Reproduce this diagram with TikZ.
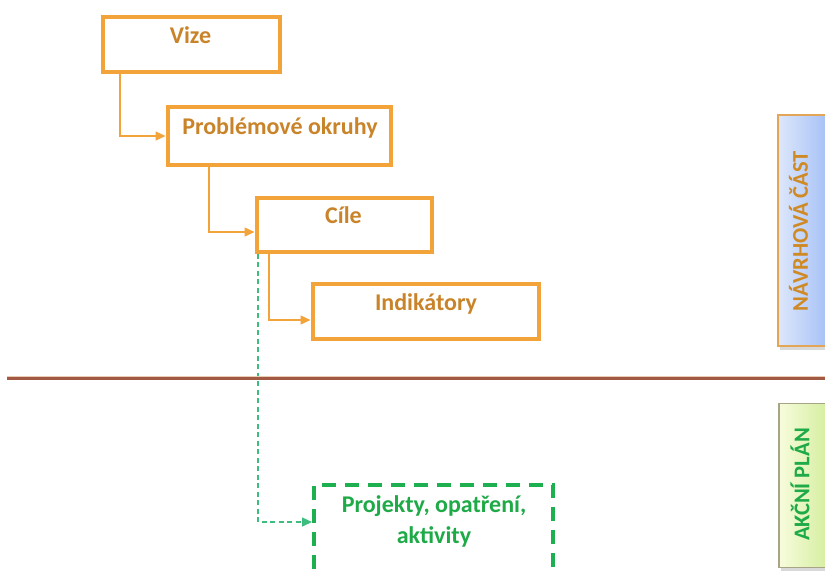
\documentclass[tikz,border=0pt]{standalone}
\usepackage{fontspec}
\setmainfont{Carlito}
\usetikzlibrary{arrows.meta}
\definecolor{orbox}{HTML}{F2A33A}
\definecolor{ortext}{HTML}{C9842A}
\definecolor{grbox}{HTML}{1EB050}
\definecolor{grtext}{HTML}{1FAA48}
\definecolor{grline}{HTML}{3DBE7E}
\definecolor{brline}{HTML}{A35A45}
\definecolor{brshade}{HTML}{EBCDB5}
\definecolor{blueL}{HTML}{DDE7FB}
\definecolor{blueR}{HTML}{A3BFF6}
\definecolor{yelL}{HTML}{F7FCDC}
\definecolor{yelR}{HTML}{D3ED9C}
\definecolor{panelor}{HTML}{E3A657}
\definecolor{panelgr}{HTML}{A8A486}
\definecolor{navtext}{HTML}{D08A24}
\begin{document}
\begin{tikzpicture}[x=1pt,y=-1pt,
  boxfont/.style={font=\bfseries\fontsize{24}{31}\selectfont},
  obox/.style={draw=orbox, line width=4pt, inner sep=0pt},
  otext/.style={boxfont, text=ortext, inner sep=0pt, text height=15.5pt, text depth=0pt},
  gbox/.style={draw=grbox, line width=4pt, dash pattern=on 14pt off 9pt, inner sep=0pt},
  gtext/.style={boxfont, text=grtext, inner sep=0pt, align=center},
  oarrow/.style={draw=orbox, line width=1.4pt, -{Triangle[length=10pt,width=9pt]}},
  garrow/.style={draw=grline, line width=1.4pt, dash pattern=on 5pt off 3.5pt, -{Triangle[length=10pt,width=9pt]}},
  sidefont/.style={font=\bfseries\fontsize{22.5}{26}\selectfont, rotate=90, inner sep=0pt, text height=14.5pt, text depth=0pt},
  panel/.style={inner sep=0pt, line width=1.8pt}
]
\clip (0,0) rectangle (825,574);
\fill[white] (0,0) rectangle (825,574);

% boxes
\node[obox, minimum width=177pt, minimum height=55pt] (vize) at (191,44) {};
\node[otext] (vizet) at (190.5,36) {Vize};
\node[obox, minimum width=223pt, minimum height=58pt] (prob) at (279,136) {};
\node[otext] (probt) at (280,126.5) {Problémové okruhy};
\node[obox, minimum width=175pt, minimum height=54pt] (cile) at (344,224.5) {};
\node[otext] (cilet) at (343.5,215.5) {Cíle};
\node[obox, minimum width=226pt, minimum height=55pt] (ind) at (425.5,311) {};
\node[otext] (indt) at (426,303) {Indikátory};

\node[gbox, minimum width=239pt, minimum height=96pt] (proj) at (433.5,533) {};
\node[gtext] (projt) at (434,521) {Projekty, opatření,\\aktivity};

% connectors
\draw[oarrow] (vize.south -| 120,0) |- (prob.west);
\draw[oarrow] (prob.south -| 209,0) |- (cile.west |- 0,232);
\draw[oarrow] (cile.south -| 269,0) |- (ind.west |- 0,320);
\draw[garrow] (cile.south -| 258,0) |- (proj.west |- 0,522);

% divider
\draw[brshade, line width=1.2pt] (7,376.3) -- (825,376.3);
\draw[brline, line width=3pt] (7,378.6) -- (825,378.6);

% side panels
\fill[black!15] (780,116.5) rectangle (832,349.5);
\node[panel, draw=panelor, left color=blueL, right color=blueR, minimum width=52pt, minimum height=231pt] (nav) at (804,230.5) {};
\node[sidefont, text=navtext] (navt) at (800.5,231) {NÁVRHOVÁ ČÁST};

\fill[black!15] (781,405.5) rectangle (832,570.5);
\node[panel, draw=panelgr, left color=yelL, right color=yelR, minimum width=52pt, minimum height=164pt] (akc) at (805,485.5) {};
\node[sidefont, text=grtext] (akct) at (802,484.5) {AKČNÍ PLÁN};
\end{tikzpicture}
\end{document}
